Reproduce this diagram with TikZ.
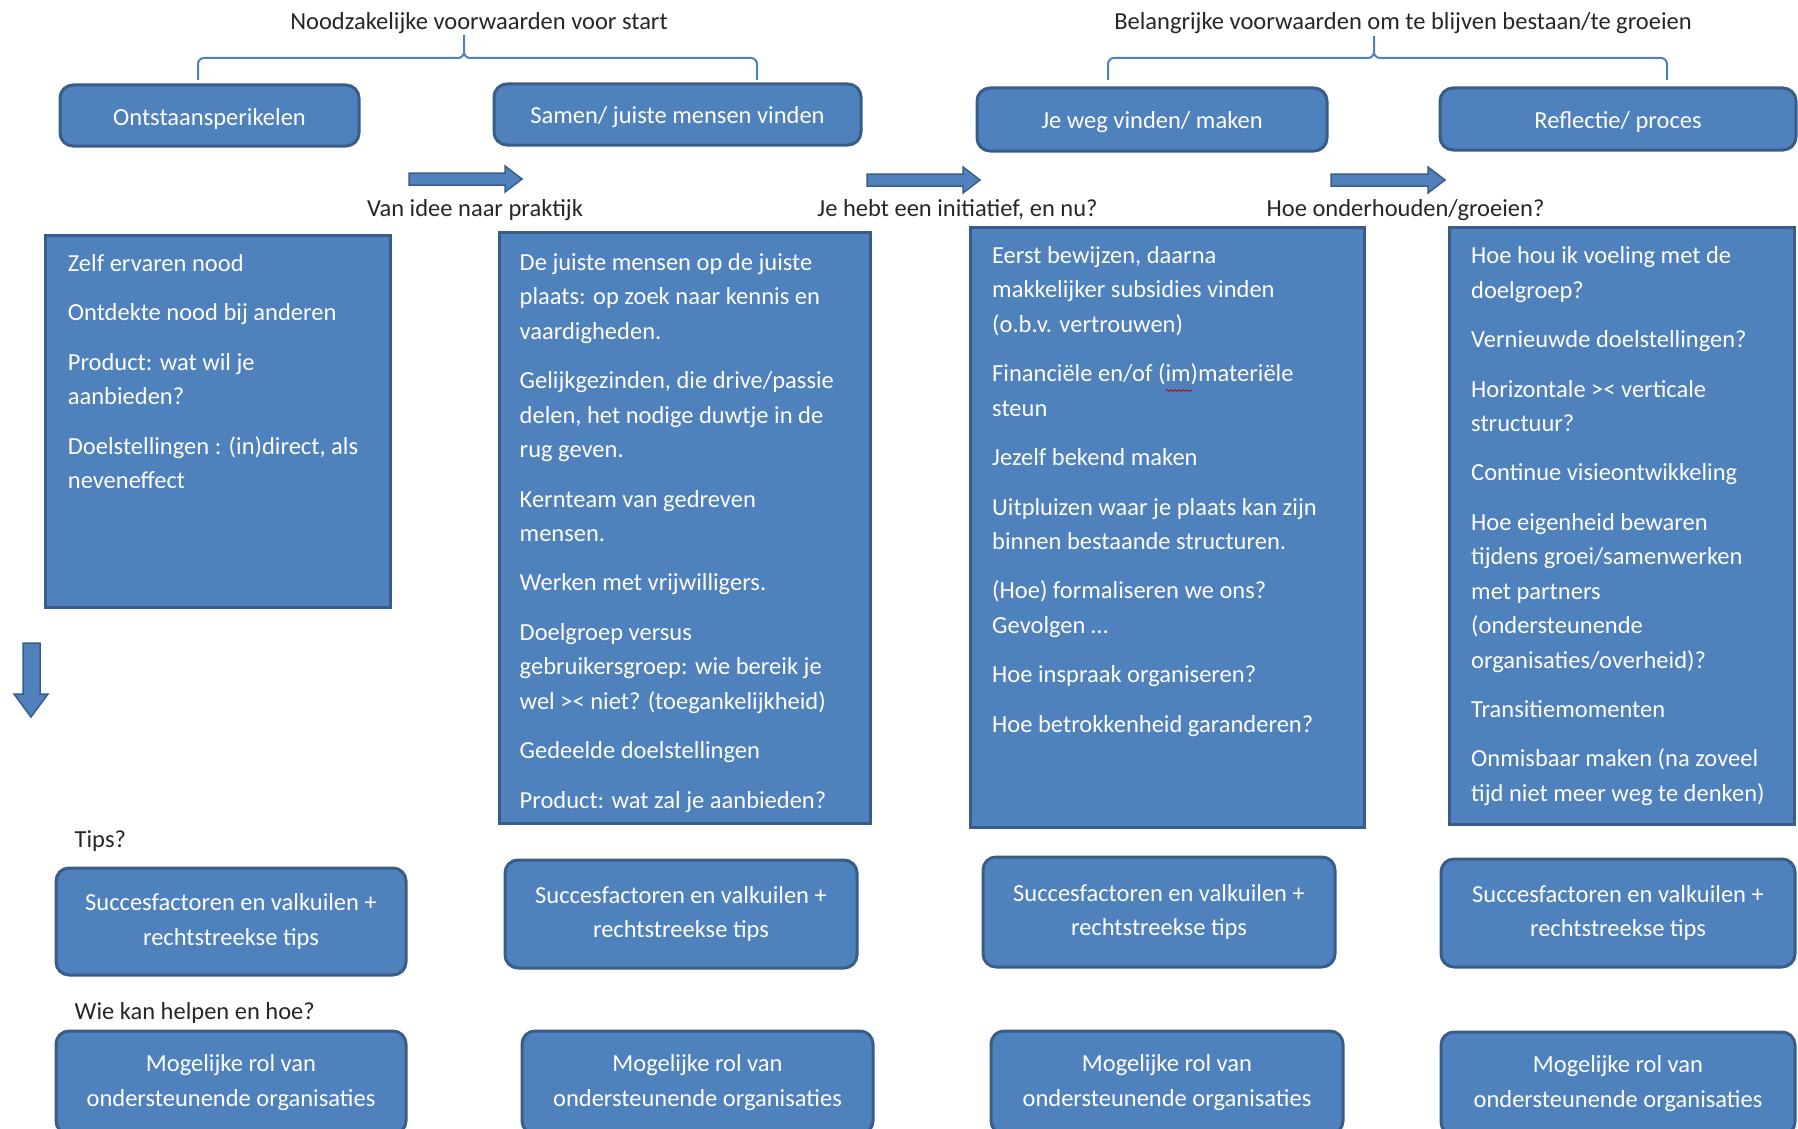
\documentclass[tikz,border=0pt]{standalone}
\usepackage{fontspec}
\setmainfont{Carlito}
\usetikzlibrary{decorations.pathmorphing}
\definecolor{boxfill}{HTML}{4F81BD}
\definecolor{boxedge}{HTML}{385D8A}
\definecolor{txt}{HTML}{262626}
\begin{document}
\begin{tikzpicture}[x=1pt,y=-1pt,
  every node/.style={font=\fontsize{24.5}{34.4}\selectfont},
  rbox/.style={draw=boxedge, line width=3pt, fill=boxfill, rounded corners=13pt, text=white, align=center, inner sep=0pt, execute at begin node={\rule{0pt}{23pt}}},
  cbox/.style={draw=boxedge, line width=3pt, fill=boxfill, inner sep=0pt},
  ctext/.style={text=white, align=left, anchor=north west, inner sep=0pt},
  lbl/.style={text=txt, inner sep=0pt},
  brace/.style={draw=boxfill, line width=2pt},
  barrow/.style={draw=boxedge, fill=boxfill, line width=1.5pt, line join=miter}
]
\fill[white] (0,0) rectangle (1798,1129);
\useasboundingbox (0,0) rectangle (1798,1129);

% titles
\node[lbl] (title1) at (479,23.3) {Noodzakelijke voorwaarden voor start};
\node[lbl] (title2) at (1403,23.3) {Belangrijke voorwaarden om te blijven bestaan/te groeien};

% braces
\draw[brace] (198,80) -- (198,64) to[out=90,in=180] (204,58) -- (458,58) to[out=0,in=-90] (464,52) -- (464,35);
\draw[brace] (464,52) to[out=-90,in=180] (470,58) -- (751,58) to[out=0,in=90] (757,64) -- (757,80);
\draw[brace] (1108,80) -- (1108,64) to[out=90,in=180] (1114,58) -- (1368,58) to[out=0,in=-90] (1374,52) -- (1374,36);
\draw[brace] (1374,52) to[out=-90,in=180] (1380,58) -- (1661,58) to[out=0,in=90] (1667,64) -- (1667,80);

% top boxes
\node[rbox, minimum width=299pt, minimum height=61pt] (t1) at (209.5,115.5) {Ontstaansperikelen};
\node[rbox, minimum width=367pt, minimum height=61pt] (t2) at (677.5,114.5) {Samen/ juiste mensen vinden};
\node[rbox, minimum width=350pt, minimum height=63pt] (t3) at (1152,119.5) {Je weg vinden/ maken};
\node[rbox, minimum width=356pt, minimum height=62pt] (t4) at (1618,119) {Reflectie/ proces};

% block arrows
\draw[barrow] (409,173) -- (505,173) -- (505,166) -- (522,179) -- (505,192) -- (505,185) -- (409,185) -- cycle;
\draw[barrow] (867,174) -- (963,174) -- (963,167) -- (980,180) -- (963,193) -- (963,186) -- (867,186) -- cycle;
\draw[barrow] (1331,174) -- (1428,174) -- (1428,167) -- (1445,180) -- (1428,193) -- (1428,186) -- (1331,186) -- cycle;
\draw[barrow] (23,643) -- (40,643) -- (40,694) -- (48,694) -- (31,717) -- (14,694) -- (23,694) -- cycle;

% arrow labels
\node[lbl] (lab1) at (475,209.8) {Van idee naar praktijk};
\node[lbl] (lab2) at (957.5,209.8) {Je hebt een initiatief, en nu?};
\node[lbl] (lab3) at (1405.5,209.8) {Hoe onderhouden/groeien?};

% content boxes
\node[cbox, minimum width=345pt, minimum height=372pt] (c1) at (217.5,421) {};
\node[cbox, minimum width=371pt, minimum height=591pt] (c2) at (684.5,527.5) {};
\node[cbox, minimum width=394pt, minimum height=600pt] (c3) at (1167,527) {};
\node[cbox, minimum width=345pt, minimum height=597pt] (c4) at (1621.5,525.5) {};

\node[ctext] (ct1) at (67.7,254.3) {Zelf ervaren nood\\[15.05pt]
Ontdekte nood bij anderen\\[15.05pt]
Product: wat wil je\\aanbieden?\\[15.05pt]
Doelstellingen : (in)direct, als\\neveneffect};

\node[ctext] (ct2) at (519.5,253.3) {De juiste mensen op de juiste\\plaats: op zoek naar kennis en\\vaardigheden.\\[15.05pt]
Gelijkgezinden, die drive/passie\\delen, het nodige duwtje in de\\rug geven.\\[15.05pt]
Kernteam van gedreven\\mensen.\\[15.05pt]
Werken met vrijwilligers.\\[15.05pt]
Doelgroep versus\\gebruikersgroep: wie bereik je\\wel >{}< niet? (toegankelijkheid)\\[15.05pt]
Gedeelde doelstellingen\\[15.05pt]
Product: wat zal je aanbieden?};

\node[ctext] (ct3) at (992,246.3) {Eerst bewijzen, daarna\\makkelijker subsidies vinden\\(o.b.v. vertrouwen)\\[15.05pt]
Financiële en/of (im)materiële\\steun\\[15.05pt]
Jezelf bekend maken\\[15.05pt]
Uitpluizen waar je plaats kan zijn\\binnen bestaande structuren.\\[15.05pt]
(Hoe) formaliseren we ons?\\Gevolgen …\\[15.05pt]
Hoe inspraak organiseren?\\[15.05pt]
Hoe betrokkenheid garanderen?};

\node[ctext] (ct4) at (1471,246.6) {Hoe hou ik voeling met de\\doelgroep?\\[15.05pt]
Vernieuwde doelstellingen?\\[15.05pt]
Horizontale >{}< verticale\\structuur?\\[15.05pt]
Continue visieontwikkeling\\[15.05pt]
Hoe eigenheid bewaren\\tijdens groei/samenwerken\\met partners\\(ondersteunende\\organisaties/overheid)?\\[15.05pt]
Transitiemomenten\\[15.05pt]
Onmisbaar maken (na zoveel\\tijd niet meer weg te denken)};

% spell-check squiggle
\draw[red!80!black, line width=0.8pt, decorate, decoration={snake, amplitude=0.9pt, segment length=4pt}] (1166,390.5) -- (1192,390.5);

% row labels
\node[lbl, anchor=west] (tips) at (74.5,841.3) {Tips?};
\node[lbl, anchor=west] (wie) at (74.5,1013.3) {Wie kan helpen en hoe?};

% succes boxes
\node[rbox, minimum width=350pt, minimum height=107pt] (s1) at (231,921.5) {Succesfactoren en valkuilen +\\rechtstreekse tips};
\node[rbox, minimum width=352pt, minimum height=108pt] (s2) at (681,914) {Succesfactoren en valkuilen +\\rechtstreekse tips};
\node[rbox, minimum width=352pt, minimum height=110pt] (s3) at (1159,912) {Succesfactoren en valkuilen +\\rechtstreekse tips};
\node[rbox, minimum width=354pt, minimum height=108pt] (s4) at (1618,913) {Succesfactoren en valkuilen +\\rechtstreekse tips};

% mogelijke rol boxes
\node[rbox, minimum width=350pt, minimum height=103pt] (m1) at (231,1082.5) {Mogelijke rol van\\ondersteunende organisaties};
\node[rbox, minimum width=351pt, minimum height=103pt] (m2) at (697.5,1082.5) {Mogelijke rol van\\ondersteunende organisaties};
\node[rbox, minimum width=352pt, minimum height=103pt] (m3) at (1167,1082.5) {Mogelijke rol van\\ondersteunende organisaties};
\node[rbox, minimum width=354pt, minimum height=103pt] (m4) at (1618,1083.5) {Mogelijke rol van\\ondersteunende organisaties};
\end{tikzpicture}
\end{document}
